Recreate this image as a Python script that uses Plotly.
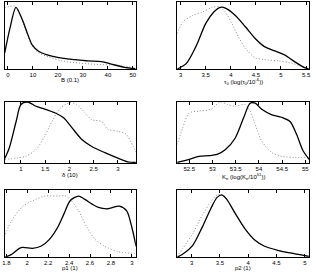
import plotly.graph_objects as go

# ---- Data (y normalised to the panel height) ----
B_solid_x = [-1.3, 0.8, 3.2, 5.8, 7.8, 9.7, 12.4, 15, 20.3, 26.8, 32, 37.4, 41.3, 46.6, 51]
B_solid_y = [0.24, 0.61, 0.92, 0.73, 0.53, 0.36, 0.26, 0.22, 0.17, 0.14, 0.12, 0.11, 0.074, 0.025, 0.005]
B_dot_x = [-1.3, 0.5, 2.5, 4.5, 7.1, 9.7, 12.4, 16.3, 21.6, 28.2, 34.7, 41.3, 46.6, 51]
B_dot_y = [0.92, 0.93, 0.94, 0.83, 0.58, 0.34, 0.24, 0.18, 0.12, 0.09, 0.07, 0.06, 0.04, 0.015]

tau_solid_x = [2.93, 3.11, 3.30, 3.50, 3.66, 3.79, 3.89, 4.09, 4.29, 4.48, 4.68, 4.88, 5.07, 5.27, 5.47, 5.55]
tau_solid_y = [0.0, 0.08, 0.33, 0.68, 0.85, 0.92, 0.91, 0.80, 0.63, 0.46, 0.33, 0.27, 0.21, 0.11, 0.02, 0.0]
tau_dot_x = [2.93, 3.04, 3.24, 3.43, 3.63, 3.76, 3.89, 4.02, 4.15, 4.29, 4.48, 4.68, 4.94, 5.20, 5.40, 5.55]
tau_dot_y = [0.53, 0.70, 0.80, 0.85, 0.92, 0.93, 0.85, 0.68, 0.48, 0.31, 0.17, 0.14, 0.12, 0.09, 0.04, 0.005]

delta_solid_x = [0.67, 0.76, 0.90, 1.0, 1.14, 1.31, 1.47, 1.71, 1.88, 2.05, 2.25, 2.46, 2.73, 3.0, 3.2, 3.37]
delta_solid_y = [0.08, 0.25, 0.68, 0.96, 1.0, 0.93, 0.89, 0.82, 0.74, 0.58, 0.39, 0.27, 0.17, 0.08, 0.02, 0.01]
delta_dot_x = [0.67, 0.90, 1.10, 1.31, 1.47, 1.64, 1.81, 2.02, 2.15, 2.32, 2.46, 2.66, 2.80, 3.0, 3.17, 3.31, 3.37]
delta_dot_y = [0.06, 0.08, 0.11, 0.22, 0.41, 0.68, 0.90, 0.99, 0.96, 0.82, 0.71, 0.68, 0.55, 0.52, 0.47, 0.28, 0.18]

Ke_solid_x = [52.24, 52.5, 52.71, 52.93, 53.1, 53.28, 53.49, 53.67, 53.81, 53.92, 54.06, 54.28, 54.49, 54.67, 54.81, 54.95, 55.08]
Ke_solid_y = [0.01, 0.06, 0.11, 0.12, 0.14, 0.22, 0.41, 0.74, 0.98, 0.98, 0.88, 0.79, 0.75, 0.68, 0.47, 0.20, 0.06]
Ke_dot_x = [52.24, 52.36, 52.5, 52.71, 52.96, 53.17, 53.32, 53.49, 53.70, 53.81, 53.92, 54.06, 54.28, 54.49, 54.77, 55.08]
Ke_dot_y = [0.30, 0.58, 0.82, 0.85, 0.88, 1.0, 0.96, 0.93, 0.96, 0.85, 0.63, 0.36, 0.17, 0.11, 0.09, 0.09]

p1_solid_x = [1.79, 1.85, 1.94, 2.05, 2.13, 2.21, 2.29, 2.35, 2.41, 2.49, 2.55, 2.62, 2.68, 2.77, 2.88, 2.95, 3.0, 3.04]
p1_solid_y = [0.0, 0.04, 0.14, 0.13, 0.16, 0.26, 0.44, 0.64, 0.84, 0.91, 0.86, 0.79, 0.74, 0.72, 0.76, 0.69, 0.44, 0.16]
p1_dot_x = [1.79, 1.85, 1.96, 2.08, 2.17, 2.30, 2.35, 2.41, 2.49, 2.57, 2.65, 2.74, 2.87, 3.04]
p1_dot_y = [0.34, 0.54, 0.76, 0.86, 0.91, 0.91, 0.92, 0.86, 0.69, 0.44, 0.26, 0.16, 0.08, 0.05]

p2_solid_x = [2.745, 2.84, 3.02, 3.19, 3.34, 3.45, 3.54, 3.63, 3.77, 3.94, 4.12, 4.29, 4.52, 4.81, 5.07]
p2_solid_y = [0.0, 0.04, 0.175, 0.45, 0.725, 0.89, 0.925, 0.85, 0.65, 0.425, 0.25, 0.16, 0.10, 0.05, 0.01]
p2_dot_x = [2.745, 2.84, 3.02, 3.19, 3.34, 3.45, 3.54, 3.63, 3.77, 3.94, 4.12, 4.29, 4.52, 4.81, 5.07]
p2_dot_y = [0.01, 0.125, 0.35, 0.625, 0.825, 0.925, 0.93, 0.85, 0.65, 0.425, 0.25, 0.16, 0.10, 0.05, 0.01]

titles = ["B (0.1)",
          "τ<sub>0</sub> (log(τ<sub>0</sub>/10<sup>-6</sup>))",
          "δ (10)",
          "K<sub>e</sub> (log(K<sub>e</sub>/10<sup>51</sup>))",
          "p1 (1)",
          "p2 (1)"]
tickvals = [[0, 10, 20, 30, 40, 50],
            [3, 3.5, 4, 4.5, 5, 5.5],
            [1, 1.5, 2, 2.5, 3],
            [52.5, 53, 53.5, 54, 54.5, 55],
            [1.8, 2, 2.2, 2.4, 2.6, 2.8, 3],
            [3, 3.5, 4, 4.5, 5]]
ticktext = [["0", "10", "20", "30", "40", "50"],
            ["3", "3.5", "4", "4.5", "5", "5.5"],
            ["1", "1.5", "2", "2.5", "3"],
            ["52.5", "53", "53.5", "54", "54.5", "55"],
            ["1.8", "2", "2.2", "2.4", "2.6", "2.8", "3"],
            ["3", "3.5", "4", "4.5", "5"]]
xranges = [[-1.2, 51.2], [2.93, 5.56], [0.67, 3.37], [52.24, 55.08], [1.787, 3.038], [2.745, 5.075]]

solids = [(B_solid_x, B_solid_y), (tau_solid_x, tau_solid_y), (delta_solid_x, delta_solid_y),
          (Ke_solid_x, Ke_solid_y), (p1_solid_x, p1_solid_y), (p2_solid_x, p2_solid_y)]
dots = [(B_dot_x, B_dot_y), (tau_dot_x, tau_dot_y), (delta_dot_x, delta_dot_y),
        (Ke_dot_x, Ke_dot_y), (p1_dot_x, p1_dot_y), (p2_dot_x, p2_dot_y)]

W, H = 316, 273
xdoms = [[2 / W, 135 / W], [177 / W, 311 / W]]
ybox = [(2, 69), (102, 163), (190, 257)]  # top, bottom in px
title_y = [[80, 81], [175, 176], [268, 268]]

fig = go.Figure()
FONT = "Liberation Sans, Arial, sans-serif"
annotations = []
for i in range(6):
    r, c = divmod(i, 2)
    n = "" if i == 0 else str(i + 1)
    xa, ya = "x" + n, "y" + n
    dx, dy = dots[i]
    sx, sy = solids[i]
    fig.add_trace(go.Scatter(x=dx, y=dy, mode="lines", xaxis=xa, yaxis=ya,
                             line=dict(color="#8a8a8a", width=1, dash="1px,2px", shape="spline", smoothing=0.8),
                             showlegend=False, hoverinfo="skip"))
    fig.add_trace(go.Scatter(x=sx, y=sy, mode="lines", xaxis=xa, yaxis=ya,
                             line=dict(color="black", width=1.3, shape="spline", smoothing=0.8),
                             showlegend=False, hoverinfo="skip"))
    top, bot = ybox[r]
    fig.layout["xaxis" + n] = dict(domain=xdoms[c], range=xranges[i], anchor=ya,
                                   tickmode="array", tickvals=tickvals[i], ticktext=ticktext[i],
                                   tickangle=0, ticklabeloverflow="allow",
                                   ticks="inside", ticklen=3, tickcolor="black", tickwidth=0.8,
                                   showline=True, linecolor="black", linewidth=1, mirror="ticks",
                                   showgrid=False, zeroline=False, ticklabelstandoff=0,
                                   tickfont=dict(family=FONT, size=6, color="black"))
    fig.layout["yaxis" + n] = dict(domain=[1 - bot / H, 1 - top / H], range=[0, 1.0], anchor=xa,
                                   showticklabels=False, ticks="", showline=True, linecolor="black",
                                   linewidth=1, mirror=True, showgrid=False, zeroline=False)
    annotations.append(dict(text=titles[i], xref="paper", yref="paper",
                            x=(xdoms[c][0] + xdoms[c][1]) / 2, y=1 - title_y[r][c] / H,
                            xanchor="center", yanchor="middle", showarrow=False,
                            font=dict(family=FONT, size=6, color="black")))

fig.update_layout(width=W, height=H, margin=dict(l=0, r=0, t=0, b=0),
                  paper_bgcolor="white", plot_bgcolor="white", annotations=annotations)
fig.write_html("out.html", config={"displayModeBar": False},
               post_script="document.body.style.margin='0';")
